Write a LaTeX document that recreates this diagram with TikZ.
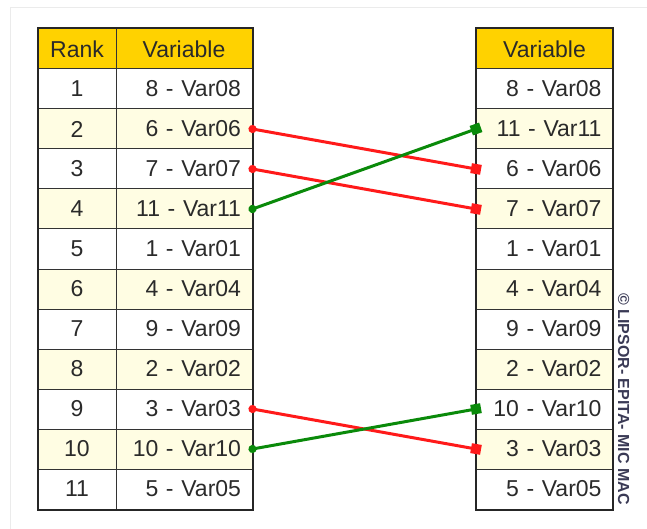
\documentclass[tikz,border=0pt]{standalone}
\usepackage{fontspec}
\setmainfont{Liberation Sans}
\usetikzlibrary{arrows.meta}
\definecolor{headgold}{HTML}{FFD200}
\definecolor{rowcream}{HTML}{FFFDE3}
\definecolor{celltext}{HTML}{2A2A2A}
\definecolor{linkred}{HTML}{FF1A1A}
\definecolor{linkgreen}{HTML}{0A8A0A}
\definecolor{framegray}{HTML}{EBEBEB}
\definecolor{notegray}{HTML}{3A3A55}

\begin{document}
\begin{tikzpicture}[x=1pt,y=1pt,node distance=40pt,
  font=\fontsize{23}{27}\selectfont,
  cell/.style={draw=black!80,line width=1pt,minimum height=40pt,text=celltext,inner ysep=0pt},
  rank cell/.style={cell,minimum width=78pt},
  var cell/.style={cell,text width=114pt,inner xsep=11pt,align=right},
  head/.style={fill=headgold,align=center},
  cream/.style={fill=rowcream},
  link/.style={line width=3pt,{Circle[length=8pt]}-{Square[length=10pt]},shorten <=-4pt,shorten >=-5pt}]

  \useasboundingbox (0,0) rectangle (647,-529);
  \draw[framegray,line width=1pt] (10,-529) -- (10,-8) -- (647,-8);

  % ranking before
  \node[rank cell,head] (kh) at (77,-49) {Rank};
  \node[rank cell] (k1) [below of=kh] {1};
  \node[rank cell,cream] (k2) [below of=k1] {2};
  \node[rank cell] (k3) [below of=k2] {3};
  \node[rank cell,cream] (k4) [below of=k3] {4};
  \node[rank cell] (k5) [below of=k4] {5};
  \node[rank cell,cream] (k6) [below of=k5] {6};
  \node[rank cell] (k7) [below of=k6] {7};
  \node[rank cell,cream] (k8) [below of=k7] {8};
  \node[rank cell] (k9) [below of=k8] {9};
  \node[rank cell,cream] (k10) [below of=k9] {10};
  \node[rank cell] (k11) [below of=k10] {11};

  \node[var cell,head] (ah) at (184,-49) {Variable};
  \node[var cell] (a1) [below of=ah] {8 - Var08};
  \node[var cell,cream] (a2) [below of=a1] {6 - Var06};
  \node[var cell] (a3) [below of=a2] {7 - Var07};
  \node[var cell,cream] (a4) [below of=a3] {11 - Var11};
  \node[var cell] (a5) [below of=a4] {1 - Var01};
  \node[var cell,cream] (a6) [below of=a5] {4 - Var04};
  \node[var cell] (a7) [below of=a6] {9 - Var09};
  \node[var cell,cream] (a8) [below of=a7] {2 - Var02};
  \node[var cell] (a9) [below of=a8] {3 - Var03};
  \node[var cell,cream] (a10) [below of=a9] {10 - Var10};
  \node[var cell] (a11) [below of=a10] {5 - Var05};

  % ranking after
  \node[var cell,head] (bh) at (544.5,-49) {Variable};
  \node[var cell] (b1) [below of=bh] {8 - Var08};
  \node[var cell,cream] (b2) [below of=b1] {11 - Var11};
  \node[var cell] (b3) [below of=b2] {6 - Var06};
  \node[var cell,cream] (b4) [below of=b3] {7 - Var07};
  \node[var cell] (b5) [below of=b4] {1 - Var01};
  \node[var cell,cream] (b6) [below of=b5] {4 - Var04};
  \node[var cell] (b7) [below of=b6] {9 - Var09};
  \node[var cell,cream] (b8) [below of=b7] {2 - Var02};
  \node[var cell] (b9) [below of=b8] {10 - Var10};
  \node[var cell,cream] (b10) [below of=b9] {3 - Var03};
  \node[var cell] (b11) [below of=b10] {5 - Var05};

  \draw[line width=2pt,black!85] (kh.north west) rectangle (a11.south east);
  \draw[line width=2pt,black!85] (bh.north west) rectangle (b11.south east);

  \node[rotate=-90,text=notegray,font=\bfseries\fontsize{16}{18}\selectfont] (note) at (623.5,-399) {© LIPSOR- EPITA- MIC MAC};

  \draw[link,linkred] (a2.east) -- (b3.west);
  \draw[link,linkred] (a3.east) -- (b4.west);
  \draw[link,linkgreen] (a4.east) -- (b2.west);
  \draw[link,linkred] (a9.east) -- (b10.west);
  \draw[link,linkgreen] (a10.east) -- (b9.west);

\end{tikzpicture}
\end{document}
